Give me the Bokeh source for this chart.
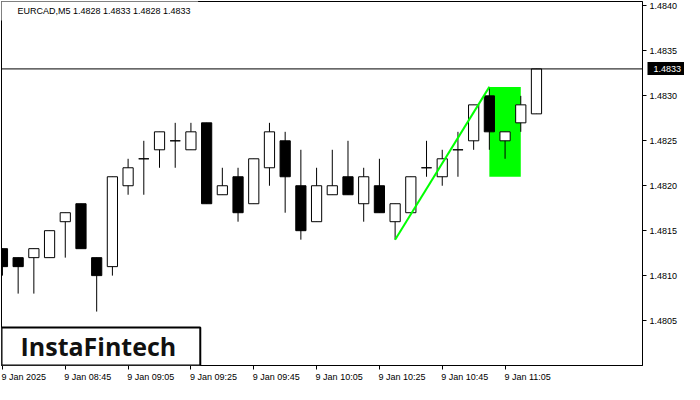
from bokeh.plotting import figure
from bokeh.models import Range1d, Span, Label, FixedTicker, NumeralTickFormatter, LinearAxis
from bokeh.embed import file_html
from bokeh.resources import INLINE

# ---- data (EURCAD M5, 9 Jan 2025, 08:25 .. 11:15) ----
times = ["08:25", "08:30", "08:35", "08:40", "08:45", "08:50", "08:55", "09:00",
         "09:05", "09:10", "09:15", "09:20", "09:25", "09:30", "09:35", "09:40",
         "09:45", "09:50", "09:55", "10:00", "10:05", "10:10", "10:15", "10:20",
         "10:25", "10:30", "10:35", "10:40", "10:45", "10:50", "10:55", "11:00",
         "11:05", "11:10", "11:15"]
opens = [1.4813, 1.4812, 1.4812, 1.4812, 1.4816, 1.4818, 1.4812, 1.4811,
         1.4820, 1.4823, 1.4824, 1.4825, 1.4824, 1.4827, 1.4819, 1.4821,
         1.4818, 1.4822, 1.4825, 1.4820, 1.4816, 1.4819, 1.4821, 1.4818,
         1.4820, 1.4816, 1.4817, 1.4822, 1.4821, 1.4824, 1.4825, 1.4830,
         1.4825, 1.4827, 1.4828]
highs = [1.4813, 1.4812, 1.4813, 1.4815, 1.4817, 1.4818, 1.4812, 1.4821,
         1.4823, 1.4825, 1.4826, 1.4827, 1.4827, 1.4827, 1.4822, 1.4822,
         1.4823, 1.4827, 1.4826, 1.4824, 1.4822, 1.4824, 1.4825, 1.4822,
         1.4823, 1.4818, 1.4821, 1.4825, 1.4824, 1.4826, 1.4829, 1.4831,
         1.4826, 1.4830, 1.4833]
lows = [1.4810, 1.4808, 1.4808, 1.4812, 1.4812, 1.4813, 1.4806, 1.4810,
        1.4819, 1.4819, 1.4822, 1.4822, 1.4824, 1.4818, 1.4819, 1.4816,
        1.4818, 1.4820, 1.4817, 1.4814, 1.4816, 1.4819, 1.4819, 1.4816,
        1.4817, 1.4814, 1.4817, 1.4821, 1.4820, 1.4821, 1.4824, 1.4824,
        1.4823, 1.4826, 1.4828]
closes = [1.4811, 1.4811, 1.4813, 1.4815, 1.4817, 1.4813, 1.4810, 1.4821,
          1.4822, 1.4823, 1.4826, 1.4825, 1.4826, 1.4818, 1.4820, 1.4817,
          1.4823, 1.4826, 1.4821, 1.4815, 1.4820, 1.4820, 1.4819, 1.4821,
          1.4817, 1.4818, 1.4821, 1.4822, 1.4823, 1.4824, 1.4829, 1.4826,
          1.4826, 1.4829, 1.4833]

x_tick_idx = [0, 4, 8, 12, 16, 20, 24, 28, 32]
x_tick_labels = ["9 Jan 2025", "9 Jan 08:45", "9 Jan 09:05", "9 Jan 09:25",
                 "9 Jan 09:45", "9 Jan 10:05", "9 Jan 10:25", "9 Jan 10:45",
                 "9 Jan 11:05"]
y_ticks = [1.4805, 1.4810, 1.4815, 1.4820, 1.4825, 1.4830, 1.4835, 1.4840]

# bullish flag pattern
pole_start_idx, pole_end_idx = 25, 31
flag_start_idx, flag_end_idx = 31, 33
flag_top, flag_bottom = 1.4831, 1.4821

header = "EURCAD,M5  1.4828 1.4833 1.4828 1.4833"

idx = list(range(len(opens)))
body_top = [max(o, c) for o, c in zip(opens, closes)]
body_bot = [min(o, c) for o, c in zip(opens, closes)]
body_fill = ["white" if c >= o else "black" for o, c in zip(opens, closes)]

FONT = "Liberation Sans"
FS_PX = 9
FS = f"{FS_PX}px"

X0, X1 = -0.06, 40.75
FRAME_W_EST = 640.0
px_per_unit = FRAME_W_EST / (X1 - X0)

# approximate text width (Liberation Sans em widths) so that x labels start at their tick
_cw = {" ": 0.278, "J": 0.5, "a": 0.556, "n": 0.556, ":": 0.278}
def text_w(s):
    return sum(_cw.get(ch, 0.556) for ch in s) * FS_PX

label_pos = [round(i + (text_w(s) / 2 - 1) / px_per_unit, 4)
             for i, s in zip(x_tick_idx, x_tick_labels)]

p = figure(width=684, height=384, output_backend="svg", toolbar_location=None,
           x_range=Range1d(X0, X1), y_range=Range1d(1.4800, 1.48405),
           y_axis_location="right", min_border_left=1, min_border_top=1,
           min_border_bottom=0, min_border_right=0,
           background_fill_color="white", border_fill_color="white")
p.grid.visible = False
p.outline_line_color = "black"
p.outline_line_width = 1

# x axis: minor ticks mark the bars, (invisible) major ticks carry left-aligned labels
xa = p.xaxis[0]
xa.ticker = FixedTicker(ticks=label_pos, minor_ticks=x_tick_idx)
xa.major_label_overrides = {pos: lab for pos, lab in zip(label_pos, x_tick_labels)}
xa.major_tick_line_color = None
xa.major_tick_in = 0
xa.major_tick_out = 4
xa.minor_tick_line_color = "black"
xa.minor_tick_in = 0
xa.minor_tick_out = 4
xa.major_label_standoff = 2
xa.axis_line_color = "black"
xa.major_label_text_font = FONT
xa.major_label_text_font_size = FS
xa.major_label_text_color = "black"

ya = p.yaxis[0]
ya.ticker = FixedTicker(ticks=y_ticks)
ya.formatter = NumeralTickFormatter(format="0.0000")
ya.major_tick_in = 0
ya.major_tick_out = 4
ya.minor_tick_line_color = None
ya.major_label_standoff = 3
ya.axis_line_color = "black"
ya.major_tick_line_color = "black"
ya.major_label_text_font = FONT
ya.major_label_text_font_size = FS
ya.major_label_text_color = "black"

# current price marker on the price scale: a second right axis whose single
# (thick, inward) tick forms the black box and whose label sits on top of it
price_axis = LinearAxis(ticker=FixedTicker(ticks=[closes[-1]]),
                        formatter=NumeralTickFormatter(format="0.0000"),
                        axis_line_color=None, minor_tick_line_color=None,
                        major_tick_line_color="black", major_tick_line_width=13,
                        major_tick_in=33, major_tick_out=7,
                        major_label_standoff=-34,
                        major_label_text_color="white",
                        major_label_text_font=FONT, major_label_text_font_size=FS)
p.add_layout(price_axis, "right")

# flag rectangle (behind candles)
p.quad(left=[flag_start_idx], right=[flag_end_idx], top=[flag_top], bottom=[flag_bottom],
       fill_color="#00ff00", line_color=None)

# candles
p.segment(x0=idx, y0=lows, x1=idx, y1=highs, line_color="black", line_width=1)
p.vbar(x=idx, width=0.65, top=body_top, bottom=body_bot,
       fill_color=body_fill, line_color="black", line_width=1)

# pole line
p.line(x=[pole_start_idx, pole_end_idx], y=[lows[pole_start_idx], highs[pole_end_idx]],
       line_color="#00ff00", line_width=2)

# current price line
p.add_layout(Span(location=closes[-1], dimension="width", line_color="black", line_width=1))

# header (white box over the frame corner, as in the terminal)
p.add_layout(Label(x=0, y=1.48405, x_units="screen", y_units="data", text=header,
                   x_offset=-1, y_offset=1, text_baseline="top", text_align="left",
                   text_font=FONT, text_font_size=FS, text_color="black",
                   background_fill_color="white", padding=(17, 5, 5, 5)))

# logo
p.add_layout(Label(x=0, y=0, x_units="screen", y_units="screen", text="InstaFintech",
                   text_baseline="bottom", text_align="left",
                   text_font="Open Sans", text_font_style="bold", text_font_size="25px",
                   text_color="#111111", background_fill_color="white",
                   border_line_color="black", border_line_width=2,
                   padding=(19, 24, 1, 3)))

open("out.html", "w").write(file_html(p, INLINE))
